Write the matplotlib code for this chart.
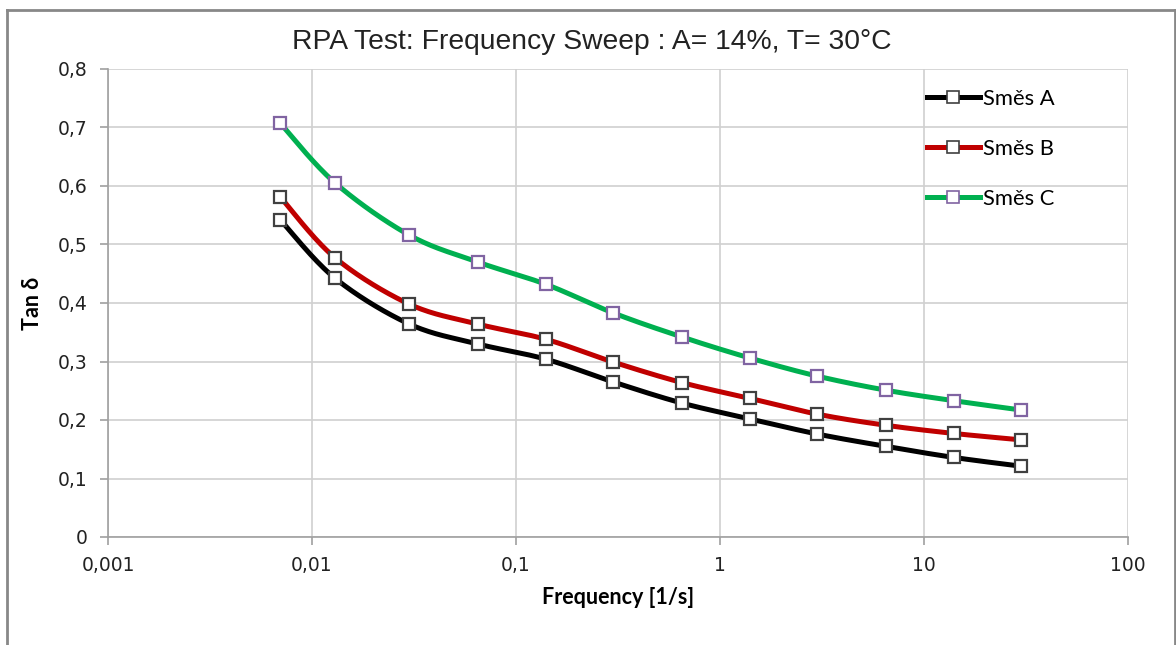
import numpy as np
import matplotlib.pyplot as plt
from matplotlib.lines import Line2D
from matplotlib.ticker import FixedLocator, FuncFormatter, NullLocator

# Data
frekvence = [0.007, 0.013, 0.03, 0.065, 0.14, 0.3, 0.65, 1.4, 3, 6.5, 14, 30]
smes_a = [0.542, 0.442, 0.364, 0.330, 0.304, 0.265, 0.229, 0.202, 0.176, 0.155, 0.136, 0.121]
smes_b = [0.581, 0.477, 0.398, 0.364, 0.338, 0.299, 0.264, 0.237, 0.210, 0.191, 0.177, 0.166]
smes_c = [0.707, 0.605, 0.516, 0.470, 0.432, 0.383, 0.342, 0.306, 0.275, 0.251, 0.233, 0.217]
nazvy = ['Směs A', 'Směs B', 'Směs C']
x_ticks = [0.001, 0.01, 0.1, 1, 10, 100]
y_ticks = [0, 0.1, 0.2, 0.3, 0.4, 0.5, 0.6, 0.7, 0.8]


def vyhladit(x, y, n=30):
    # Catmull-Rom spline in log-x space, similar to Excel smoothed lines
    lx = np.log10(x)
    y = np.asarray(y, dtype=float)
    p = np.column_stack([lx, y])
    p = np.vstack([p[0], p, p[-1]])
    out = []
    t = np.linspace(0, 1, n)[:, None]
    for i in range(1, len(p) - 2):
        p0, p1, p2, p3 = p[i - 1], p[i], p[i + 1], p[i + 2]
        seg = 0.5 * ((2 * p1) + (-p0 + p2) * t + (2 * p0 - 5 * p1 + 4 * p2 - p3) * t ** 2
                     + (-p0 + 3 * p1 - 3 * p2 + p3) * t ** 3)
        out.append(seg)
    out = np.vstack(out)
    return 10 ** out[:, 0], out[:, 1]


fig = plt.figure(figsize=(11.76, 6.45), dpi=100)
ax = fig.add_axes([108 / 1176, 1 - 537 / 645, 1020 / 1176, 468 / 645])

serie = [smes_a, smes_b, smes_c]
barvy = ['#000000', '#C00000', '#00B050']
okraje = ['#404040', '#404040', '#8064A2']

for hodnoty, barva, okraj in zip(serie, barvy, okraje):
    sx, sy = vyhladit(frekvence, hodnoty)
    ax.plot(sx, sy, color=barva, lw=3.6, solid_capstyle='round', zorder=3)
    ax.plot(frekvence, hodnoty, ls='none', marker='s', ms=9, mfc='white',
            mec=okraj, mew=1.6, zorder=4)

ax.set_xscale('log')
ax.set_xlim(0.001, 100)
ax.set_ylim(0, 0.8)
ax.xaxis.set_major_locator(FixedLocator(x_ticks))
ax.xaxis.set_minor_locator(NullLocator())
ax.yaxis.set_major_locator(FixedLocator(y_ticks))
ax.xaxis.set_major_formatter(FuncFormatter(lambda v, p: ('%g' % v).replace('.', ',')))
ax.yaxis.set_major_formatter(FuncFormatter(lambda v, p: ('%g' % v).replace('.', ',')))

ax.grid(True, color='#D0D0D0', lw=1.2)
ax.set_axisbelow(True)
for s in ['top', 'right']:
    ax.spines[s].set_visible(False)
for s in ['left', 'bottom']:
    ax.spines[s].set_color('#A0A0A0')
    ax.spines[s].set_linewidth(1.2)
ax.tick_params(axis='both', direction='out', length=6, width=1.2, color='#A0A0A0',
               labelsize=13.5, labelcolor='#222222')
ax.tick_params(axis='y', pad=9)
ax.tick_params(axis='x', pad=8)

ax.set_xlabel('Frequency [1/s]', family='Lato', fontweight='bold', fontsize=15.5, labelpad=8)
ax.set_ylabel('Tan δ', family='Lato', fontweight='bold', fontsize=15.5, labelpad=10)

fig.text(592 / 1176, 1 - 42 / 645, 'RPA Test: Frequency Sweep : A= 14%, T= 30°C',
         family='Liberation Sans', fontsize=20.3, ha='center', va='center', color='#222222')

handles = [Line2D([], [], color=b, lw=3.6, marker='s', ms=9, mfc='white', mec=o, mew=1.2)
           for b, o in zip(barvy, okraje)]
ax.legend(handles, nazvy, loc='upper left', bbox_to_anchor=((927 - 108) / 1020, 1 - (89 - 69) / 468),
          frameon=False, handlelength=2.4, handletextpad=0.15, labelspacing=1.37,
          borderpad=0, borderaxespad=0, prop={'family': 'Lato', 'size': 15.8})

# outer chart border
for (x0, y0, x1, y1) in [(7, 10, 1175, 10), (7, 10, 7, 660), (1175, 10, 1175, 660)]:
    fig.add_artist(Line2D([x0 / 1176, x1 / 1176], [1 - y0 / 645, 1 - y1 / 645],
                          color='#888888', lw=2, transform=fig.transFigure))

fig.savefig('out.png', dpi=100)
